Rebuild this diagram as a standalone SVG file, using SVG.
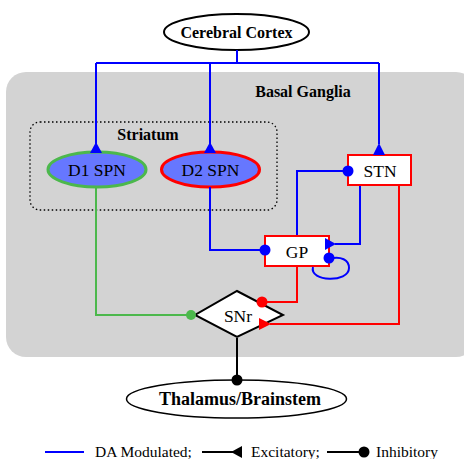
<svg xmlns="http://www.w3.org/2000/svg" width="464" height="459" viewBox="0 0 464 459">
<style>
.lbl{font-family:"Liberation Serif","Times New Roman",serif;text-anchor:middle;fill:#000}
.b{font-weight:bold}
.blue{stroke:#0000ff;stroke-width:2;fill:none}
.red{stroke:#ff0000;stroke-width:2;fill:none}
.green{stroke:#4cb84c;stroke-width:2;fill:none}
.blk{stroke:#000;stroke-width:2;fill:none}
</style>
<rect x="0" y="0" width="464" height="459" fill="#ffffff"/>
<g id="basal-ganglia">
<rect x="6" y="72" width="470" height="285" rx="20" ry="20" fill="#d3d3d3"/>
<text class="lbl b" x="303" y="97" font-size="16">Basal Ganglia</text>
</g>
<g id="striatum">
<rect x="30" y="122" width="247" height="88" rx="10" ry="10" fill="none" stroke="#000" stroke-width="1.3" stroke-dasharray="1.5,2.5"/>
<text class="lbl b" x="148" y="140" font-size="16">Striatum</text>
</g>
<g id="cerebral-cortex">
<ellipse cx="236.5" cy="32" rx="72.5" ry="18" fill="#fff" stroke="#000" stroke-width="2"/>
<text class="lbl b" x="236.5" y="37.5" font-size="16">Cerebral Cortex</text>
</g>
<g id="d1-spn">
<ellipse cx="97" cy="169.5" rx="49" ry="17.5" fill="#6677ff" stroke="#4cb84c" stroke-width="3"/>
<text class="lbl" x="97" y="175.5" font-size="17.5">D1 SPN</text>
</g>
<g id="d2-spn">
<ellipse cx="210.5" cy="169.5" rx="49" ry="17.5" fill="#6677ff" stroke="#ff0000" stroke-width="3"/>
<text class="lbl" x="210.5" y="175.5" font-size="17.5">D2 SPN</text>
</g>
<g id="stn">
<rect x="348" y="155" width="63" height="30" fill="#fff" stroke="#ff0000" stroke-width="2"/>
<text class="lbl" x="380" y="176.5" font-size="17.5">STN</text>
</g>
<g id="gp">
<rect x="265" y="236" width="64" height="30" fill="#fff" stroke="#ff0000" stroke-width="2"/>
<text class="lbl" x="297" y="257.5" font-size="17.5">GP</text>
</g>
<g id="snr">
<polygon points="237,291 283,315 237,337 195,315" fill="#fff" stroke="#000" stroke-width="2"/>
<text class="lbl" x="238" y="321.5" font-size="17.5">SNr</text>
</g>
<g id="thalamus">
<ellipse cx="236.5" cy="399" rx="110" ry="19" fill="#fff" stroke="#000" stroke-width="1.5"/>
<text class="lbl b" x="240" y="405" font-size="18">Thalamus/Brainstem</text>
</g>
<g id="connectors">
<path class="blue" d="M237,50 V63 M96,63 H379 M96,63 V144 M210,63 V144 M379,63 V144"/>
<polygon points="96,142 90,153 102,153" fill="#0000ff"/>
<polygon points="210,142 204,153 216,153" fill="#0000ff"/>
<polygon points="379,143 373,155 385,155" fill="#0000ff"/>
<path class="green" d="M96,187 V315 H191"/>
<circle cx="191" cy="315" r="5" fill="#4cb84c"/>
<path class="blue" d="M210,187 V250 H265"/>
<circle cx="265" cy="250" r="5.5" fill="#0000ff"/>
<path class="blue" d="M297,235 V171 H348"/>
<circle cx="348" cy="171" r="5.5" fill="#0000ff"/>
<path class="blue" d="M360,186 V244 H335"/>
<polygon points="336,244 325,238 325,250" fill="#0000ff"/>
<path class="blue" d="M313,267 C309,282 349,283 349,268 C349,259 340,257 333,258"/>
<circle cx="329" cy="258" r="5.5" fill="#0000ff"/>
<path class="red" d="M297,267 V302 H263"/>
<circle cx="262" cy="302" r="5.5" fill="#ff0000"/>
<path class="red" d="M399,186 V324 H270"/>
<polygon points="271,324 259,318 259,330" fill="#ff0000"/>
<path class="blk" d="M237,338 V380"/>
<circle cx="237" cy="380" r="5.5" fill="#000"/>
</g>
<g id="legend">
<line x1="45" y1="452" x2="84" y2="452" stroke="#0000ff" stroke-width="2"/>
<text class="lbl" x="95" y="457" font-size="15.5" style="text-anchor:start">DA Modulated;</text>
<line x1="202" y1="452" x2="234" y2="452" stroke="#000" stroke-width="2"/>
<polygon points="231,452 242,446 242,458" fill="#000"/>
<text class="lbl" x="251" y="457" font-size="15.5" style="text-anchor:start">Excitatory;</text>
<line x1="327" y1="452" x2="362" y2="452" stroke="#000" stroke-width="2"/>
<circle cx="364" cy="452" r="5.5" fill="#000"/>
<text class="lbl" x="376" y="457" font-size="15.5" style="text-anchor:start">Inhibitory</text>
</g>
</svg>
